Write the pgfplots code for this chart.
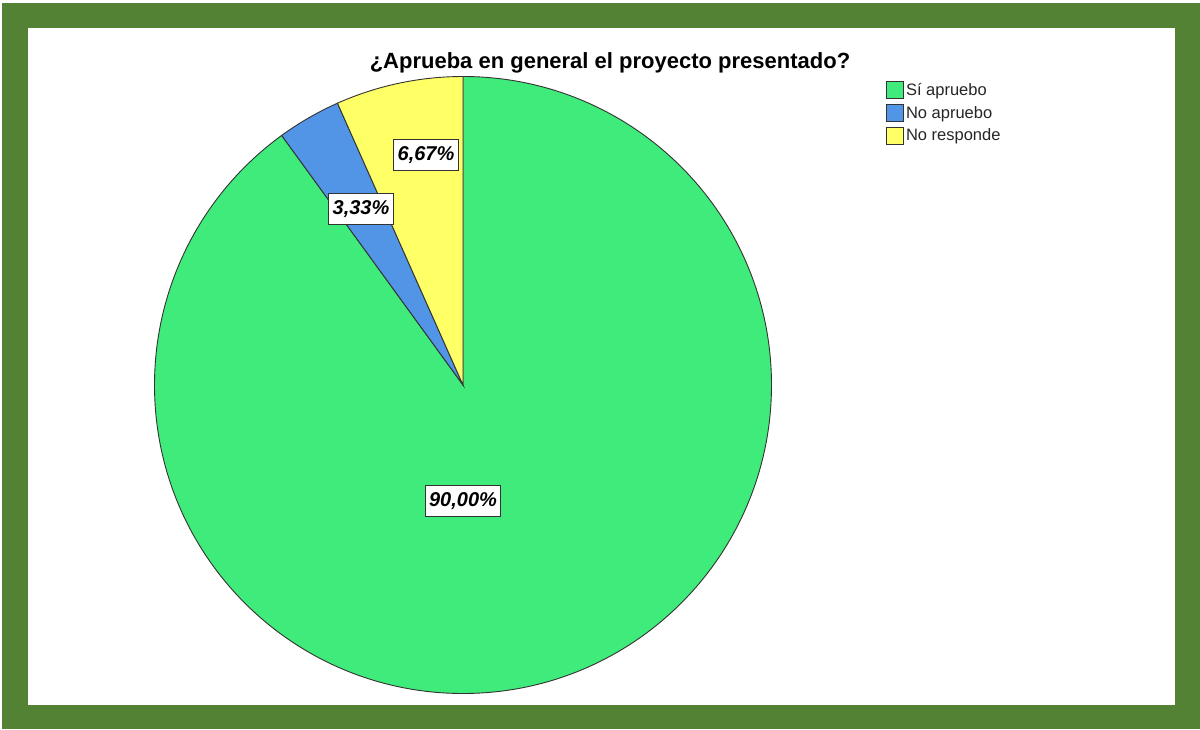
\documentclass[border=0pt]{standalone}
\usepackage{pgfplots}
\pgfplotsset{compat=1.18}
\usepackage{pgfplotstable}
\usepackage{fontspec}
\setmainfont{Liberation Sans}
\definecolor{frame}{HTML}{548235}
\definecolor{pgreen}{HTML}{3FEB7A}
\definecolor{pblue}{HTML}{5294E6}
\definecolor{pyellow}{HTML}{FFFF66}
\definecolor{edge}{HTML}{333333}

\pgfplotstableread[col sep=comma]{
label,value
Sí apruebo,90.00
No apruebo,3.33
No responde,6.67
}\piedata

\begin{document}
\pgfplotstablegetelem{0}{value}\of\piedata \pgfmathsetmacro\vA{\pgfplotsretval}%
\pgfplotstablegetelem{1}{value}\of\piedata \pgfmathsetmacro\vB{\pgfplotsretval}%
\pgfplotstablegetelem{2}{value}\of\piedata \pgfmathsetmacro\vC{\pgfplotsretval}%
\pgfmathsetmacro\aA{90}%
\pgfmathsetmacro\aB{\aA-3.6*\vA}%
\pgfmathsetmacro\aC{\aB-3.6*\vB}%
\pgfmathsetmacro\aD{\aC-3.6*\vC}%
\begin{tikzpicture}
\begin{axis}[
  scale only axis, width=1200pt, height=729pt,
  xmin=0, xmax=1200, ymin=0, ymax=729,
  enlargelimits=false, hide axis, clip=false,
  legend style={at={(axis cs:886,648)}, anchor=north west, draw=none, fill=none,
    font=\fontsize{16.5}{19}\selectfont, text=black!85, inner sep=0pt, row sep=5pt,
    /tikz/every even column/.append style={column sep=2pt}},
  legend cell align=left,
  legend image code/.code={\draw[#1] (0pt,-8.5pt) rectangle (17pt,8.5pt);},
]
% frame
\fill[white] (axis cs:0,0) rectangle (axis cs:1200,729);
\fill[frame] (axis cs:2,0) rectangle (axis cs:1200,726);
\fill[white] (axis cs:28,24) rectangle (axis cs:1175,701);
% legend
\addlegendimage{fill=pgreen, draw=edge, line width=0.8pt}
\addlegendentry{Sí apruebo}
\addlegendimage{fill=pblue, draw=edge, line width=0.8pt}
\addlegendentry{No apruebo}
\addlegendimage{fill=pyellow, draw=edge, line width=0.8pt}
\addlegendentry{No responde}
% slices
\filldraw[fill=pgreen, draw=edge, line width=0.9pt] (axis cs:463,344) -- ++(\aA:308.5pt) arc[start angle=\aA, end angle=\aB, radius=308.5pt] -- cycle;
\filldraw[fill=pblue, draw=edge, line width=0.9pt] (axis cs:463,344) -- ++(\aB:308.5pt) arc[start angle=\aB, end angle=\aC, radius=308.5pt] -- cycle;
\filldraw[fill=pyellow, draw=edge, line width=0.9pt] (axis cs:463,344) -- ++(\aC:308.5pt) arc[start angle=\aC, end angle=\aD, radius=308.5pt] -- cycle;
% labels
\tikzset{lab/.style={draw=edge, fill=white, line width=0.9pt, font=\bfseries\itshape\fontsize{20}{24}\selectfont, inner xsep=4pt, text height=14.5pt, text depth=3pt, inner ysep=7pt}}
\node[lab] at (axis cs:426,574) {6,67\%};
\node[lab] at (axis cs:361,520) {3,33\%};
\node[lab] at (axis cs:463,228) {90,00\%};
% title
\node[font=\bfseries\fontsize{22}{26}\selectfont, anchor=base] at (axis cs:610,660) {¿Aprueba en general el proyecto presentado?};
\end{axis}
\end{tikzpicture}
\end{document}
